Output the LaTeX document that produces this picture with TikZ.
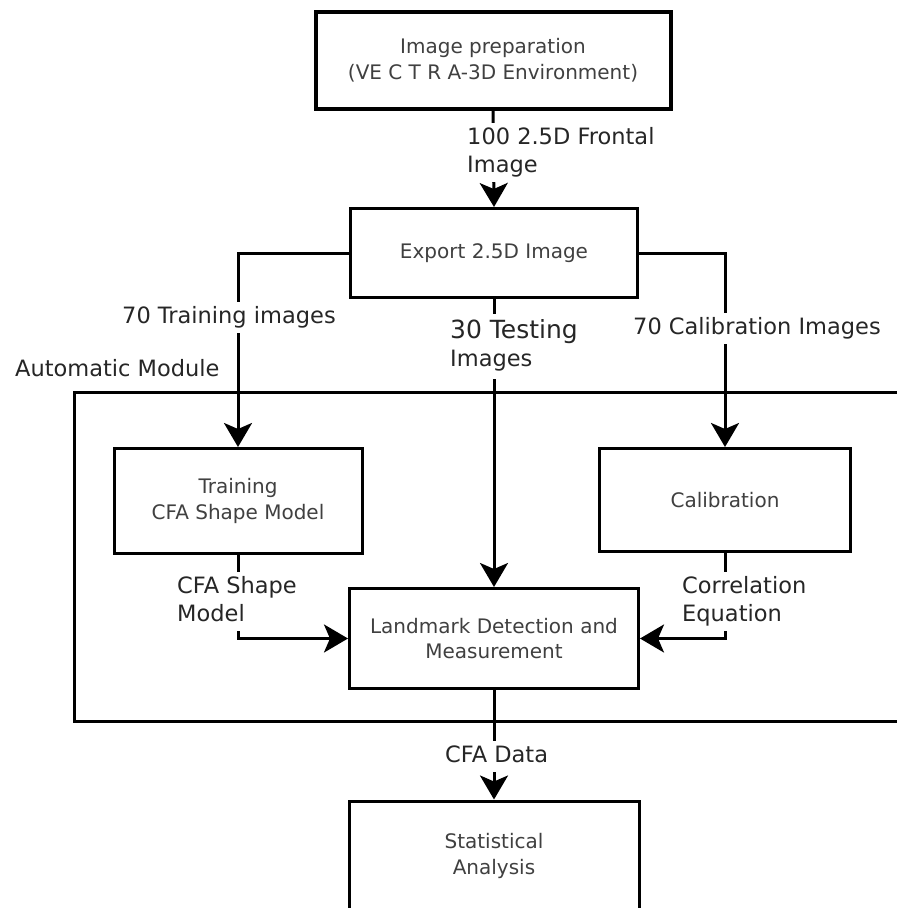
\documentclass[tikz,border=0pt]{standalone}
\usepackage{fontspec}
\setmainfont{DejaVu Sans}
\usetikzlibrary{arrows.meta}
% left-aligned label text whose reference point is the first line's baseline
\newcommand{\lbltext}[1]{\begin{tabular}[t]{@{}l@{}}#1\end{tabular}}
\begin{document}
\begin{tikzpicture}[x=1pt,y=-1pt,
  box/.style={draw, line width=3pt, align=center, text=black!75,
    font=\fontsize{20}{25.5}\selectfont, inner sep=0pt},
  lbl/.style={fill=white, anchor=base west, inner xsep=2pt, inner ysep=1pt,
    text=black!85, font=\fontsize{22.5}{28.5}\selectfont},
  arr/.style={line width=3pt, -{Stealth[length=24pt,width=28pt,inset=6pt]}},
  frame/.style={line width=3pt}]
\path[use as bounding box, clip] (0,0) rectangle (897,908);
\fill[white] (0,0) rectangle (897,908);

% automatic module frame (open to the right edge)
\draw[frame] (74,392) rectangle (960,721);

% process boxes
\node[box, line width=4pt, minimum width=355pt, minimum height=97pt] (prep) at (493,60)
  {Image preparation\\(VE C T R A-3D Environment)};
\node[box, minimum width=287pt, minimum height=89pt] (export) at (494,253) {Export 2.5D Image};
\node[box, minimum width=248pt, minimum height=105pt] (train) at (238,501)
  {Training\\CFA Shape Model};
\node[box, minimum width=251pt, minimum height=103pt] (calib) at (725,500) {Calibration};
\node[box, minimum width=289pt, minimum height=100pt] (land) at (494,638.5)
  {Landmark Detection and\\Measurement};
\node[box, minimum width=290pt, minimum height=110pt] (stat) at (494,856)
  {Statistical\\Analysis};

% connectors
\draw[arr] (prep.south) -- (export.north);
\draw[arr] (export.west) -| (train.north);
\draw[arr] (export.south) -- (land.north);
\draw[arr] (export.east) -| (calib.north);
\draw[arr] (train.south) |- (land.west);
\draw[arr] (calib.south) |- (land.east);
\draw[arr] (land.south) -- (stat.north);

% connector labels
\node[lbl] (lfront) at (465,144) {\lbltext{100 2.5D Frontal\\Image}};
\node[lbl] (ltrain) at (120,323) {\lbltext{70 Training images}};
\node[lbl, inner ysep=4pt] (ltest) at (448,338)
  {\lbltext{{\fontsize{25}{28.5}\selectfont 30 Testing}\\Images}};
\node[lbl] (lcalib) at (631,334) {\lbltext{70 Calibration Images}};
\node[lbl] (lmodel) at (175,593) {\lbltext{CFA Shape\\Model}};
\node[lbl] (lcorr) at (680,593) {\lbltext{Correlation\\Equation}};
\node[lbl] (ldata) at (443,762) {\lbltext{CFA Data}};
\node[lbl, fill=none] (lauto) at (13,376) {\lbltext{Automatic Module}};
\end{tikzpicture}
\end{document}
